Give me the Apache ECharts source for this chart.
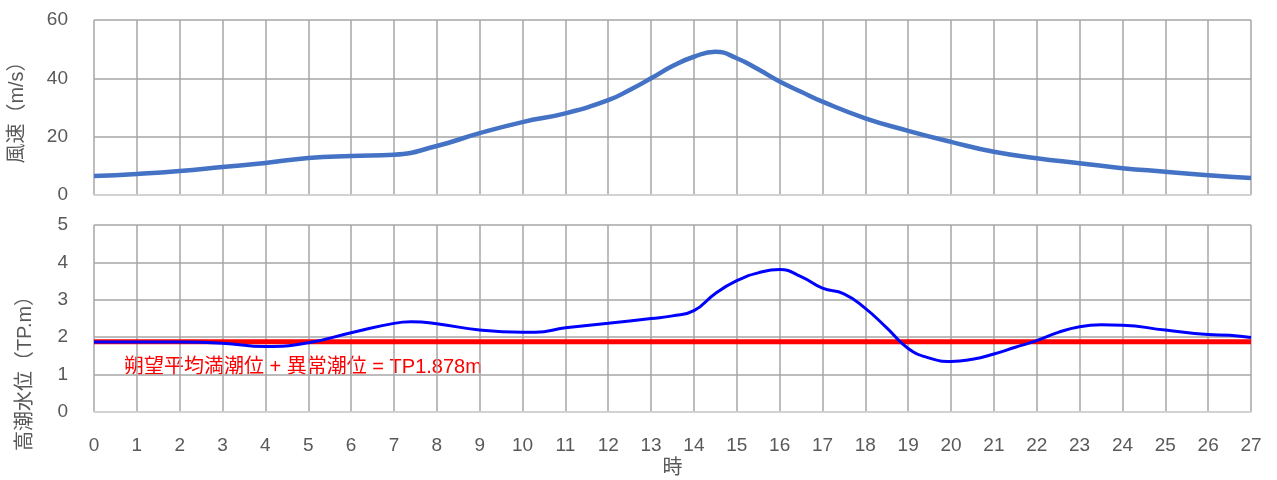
<!DOCTYPE html>
<html>
<head>
<meta charset="utf-8">
<script src="https://cdn.jsdelivr.net/npm/echarts@6/dist/echarts.min.js"></script>
<style>
  html, body { margin: 0; padding: 0; background: #fff; }
  #chart { width: 1277px; height: 480px; }
</style>
</head>
<body>
<div id="chart"></div>
<script>
// hours on the x axis
const hours = [0, 1, 2, 3, 4, 5, 6, 7, 8, 9, 10, 11, 12, 13, 14, 15, 16, 17, 18, 19, 20, 21, 22, 23, 24, 25, 26, 27]

// wind speed (m/s), [hour, value]
const windX = [0, 1, 2, 3, 4, 5, 6, 7, 8, 9, 10, 11, 12, 12.5, 13, 13.5, 14, 14.5, 15, 15.5, 16, 16.5, 17, 18, 19, 20, 21, 22, 23, 24, 25, 26, 27]
const windY = [6.5, 7.2, 8.2, 9.6, 11, 12.7, 13.4, 13.8, 16.8, 21.2, 25, 28, 32.5, 36, 40, 44.2, 47.4, 49.1, 46.9, 43.1, 38.9, 35.4, 32, 26.3, 22, 18.2, 14.8, 12.6, 10.9, 9.2, 8, 6.8, 5.8]

// storm tide level (TP.m)
const tideX = [0, 1, 2, 3, 4, 5, 6, 7, 7.4, 8, 9, 10, 10.3, 11, 12, 13, 13.5, 14, 14.5, 15, 15.5, 16, 16.5, 17, 17.5, 18, 18.5, 19, 19.5, 20, 20.5, 21, 21.5, 22, 22.5, 23, 23.5, 24, 25, 26, 26.5, 27]
const tideY = [1.87, 1.87, 1.87, 1.84, 1.75, 1.85, 2.12, 2.37, 2.41, 2.36, 2.19, 2.13, 2.13, 2.25, 2.37, 2.5, 2.57, 2.71, 3.17, 3.51, 3.72, 3.81, 3.62, 3.31, 3.16, 2.77, 2.25, 1.7, 1.44, 1.35, 1.41, 1.55, 1.73, 1.91, 2.13, 2.28, 2.33, 2.32, 2.19, 2.07, 2.05, 1.99]

// reference level
const levelX = [0, 27]
const levelY = [1.878, 1.878]
const levelLabel = '朔望平均満潮位 + 異常潮位 = TP1.878m'

const FONT = '"Liberation Sans", "Noto Sans CJK JP", sans-serif'
const GRAY = '#595959'
const GRID = '#a6a6a6'

const pairs = (xs, ys) => xs.map((x, i) => [x, ys[i]])

const chart = echarts.init(document.getElementById('chart'))

const xBase = {
  type: 'value',
  min: 0,
  max: 27,
  interval: 1,
  axisTick: { show: false },
  axisLine: { show: true, lineStyle: { color: '#d9d9d9', width: 1.5 } },
  splitLine: { show: true, lineStyle: { color: GRID, width: 1.5 } },
}

const tickLabel = { color: GRAY, fontSize: 19, margin: 26, fontFamily: FONT }

chart.setOption({
  animation: false,
  textStyle: { fontFamily: FONT },
  grid: [
    { left: 94, right: 26, top: 20, height: 175, outerBoundsMode: 'none' },
    { left: 94, right: 26, top: 225, height: 187, outerBoundsMode: 'none' },
  ],
  xAxis: [
    { ...xBase, gridIndex: 0, axisLabel: { show: false } },
    {
      ...xBase,
      gridIndex: 1,
      axisLabel: { ...tickLabel, margin: 24 },
      name: '時',
      nameLocation: 'middle',
      nameGap: 46,
      nameTextStyle: { color: GRAY, fontSize: 20, fontFamily: FONT },
    },
  ],
  yAxis: [
    {
      type: 'value',
      gridIndex: 0,
      min: 0,
      max: 60,
      interval: 20,
      axisLine: { show: false },
      axisTick: { show: false },
      axisLabel: tickLabel,
      splitLine: { lineStyle: { color: GRID, width: 1.5 } },
      name: '風速（m/s）',
      nameLocation: 'middle',
      nameRotate: 90,
      nameGap: 67,
      nameTextStyle: { color: GRAY, fontSize: 20, fontFamily: FONT },
    },
    {
      type: 'value',
      gridIndex: 1,
      min: 0,
      max: 5,
      interval: 1,
      axisLine: { show: false },
      axisTick: { show: false },
      axisLabel: tickLabel,
      splitLine: { lineStyle: { color: GRID, width: 1.5 } },
      name: '高潮水位（TP.m）',
      nameLocation: 'middle',
      nameRotate: 90,
      nameGap: 59,
      nameTextStyle: { color: GRAY, fontSize: 20, fontFamily: FONT, padding: [0, 100, 0, 0] },
    },
  ],
  series: [
    {
      name: '風速',
      type: 'line',
      xAxisIndex: 0,
      yAxisIndex: 0,
      data: pairs(windX, windY),
      smooth: true,
      showSymbol: false,
      lineStyle: { color: '#4472c4', width: 4.5 },
    },
    {
      name: '基準',
      type: 'line',
      xAxisIndex: 1,
      yAxisIndex: 1,
      data: pairs(levelX, levelY),
      showSymbol: false,
      z: 2,
      lineStyle: { color: '#ff0000', width: 5 },
    },
    {
      name: '高潮水位',
      type: 'line',
      xAxisIndex: 1,
      yAxisIndex: 1,
      data: pairs(tideX, tideY),
      smooth: true,
      showSymbol: false,
      z: 3,
      lineStyle: { color: '#0000ff', width: 3 },
    },
  ],
  graphic: [{
    type: 'text',
    left: 124,
    top: 357,
    style: { text: levelLabel, fill: '#ff0000', fontSize: 20, fontFamily: FONT },
  }],
})
</script>
</body>
</html>
